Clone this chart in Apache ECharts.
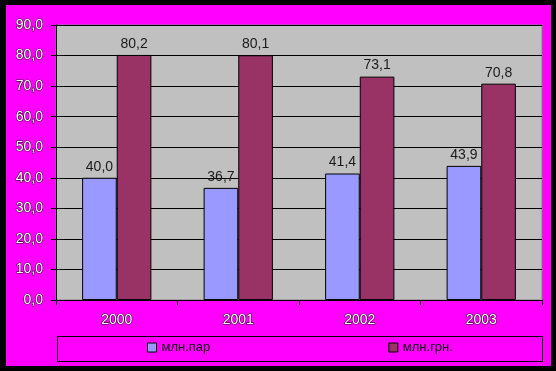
<!DOCTYPE html>
<html><head><meta charset="utf-8">
<script src="https://cdn.jsdelivr.net/npm/echarts@6/dist/echarts.min.js"></script>
<style>html,body{margin:0;padding:0;background:#000;}#c{width:556px;height:371px;}</style>
</head><body><div id="c"></div>
<script>
const categories = ['2000', '2001', '2002', '2003'];
const seriesNames = ['млн.пар', 'млн.грн.'];
const parValues = [40.0, 36.7, 41.4, 43.9];
const grnValues = [80.2, 80.1, 73.1, 70.8];
const yTicks = [0, 10, 20, 30, 40, 50, 60, 70, 80, 90];

const fmt = v => v.toFixed(1).replace('.', ',');
const font = 'Liberation Sans, Arial, sans-serif';
const axisText = {color: '#ffffff', textBorderColor: 'rgba(0,0,0,0.8)', textBorderWidth: 1.2, fontFamily: font, fontSize: 14};

const chart = echarts.init(document.getElementById('c'), null, {renderer: 'canvas'});
chart.setOption({
  backgroundColor: '#000',
  animation: false,
  graphic: [
    {type: 'rect', z: -10, shape: {x: 6, y: 5, width: 545, height: 361}, style: {fill: '#ff00ff'}},
    {type: 'rect', z: 10, shape: {x: 57.5, y: 336.5, width: 485, height: 25}, style: {fill: 'none', stroke: '#000', lineWidth: 1}}
  ],
  grid: {left: 56, top: 25, right: 14, bottom: 71, show: true, backgroundColor: '#c0c0c0', borderColor: '#808080', borderWidth: 1},
  legend: {
    data: seriesNames, left: 147, top: 341, padding: 0, itemGap: 178,
    icon: 'rect', itemWidth: 9, itemHeight: 9,
    itemStyle: {borderColor: '#000', borderWidth: 1},
    textStyle: {color: '#111', fontFamily: font, fontSize: 13}
  },
  xAxis: {
    type: 'category', data: categories,
    axisLine: {lineStyle: {color: '#000', width: 1}},
    axisTick: {show: true, length: 5, lineStyle: {color: '#000'}},
    axisLabel: Object.assign({margin: 13}, axisText)
  },
  yAxis: {
    type: 'value', min: yTicks[0], max: yTicks[yTicks.length - 1], interval: 10,
    axisLine: {show: true, lineStyle: {color: '#000', width: 1}},
    axisTick: {show: true, length: 5, lineStyle: {color: '#000'}},
    splitLine: {show: true, lineStyle: {color: '#000', width: 1}},
    axisLabel: Object.assign({margin: 13, formatter: v => fmt(v)}, axisText)
  },
  series: [
    {name: seriesNames[0], type: 'bar', data: parValues, barGap: '0%', barCategoryGap: '43%',
     itemStyle: {color: '#9999ff', borderColor: '#000', borderWidth: 1},
     label: {show: true, position: 'top', distance: 4, color: '#1a1a1a', fontFamily: font, fontSize: 14, formatter: p => fmt(p.value)}},
    {name: seriesNames[1], type: 'bar', data: grnValues, barGap: '0%', barCategoryGap: '43%',
     itemStyle: {color: '#993366', borderColor: '#000', borderWidth: 1},
     label: {show: true, position: 'top', distance: 4, color: '#1a1a1a', fontFamily: font, fontSize: 14, formatter: p => fmt(p.value)}}
  ]
});
</script></body></html>
